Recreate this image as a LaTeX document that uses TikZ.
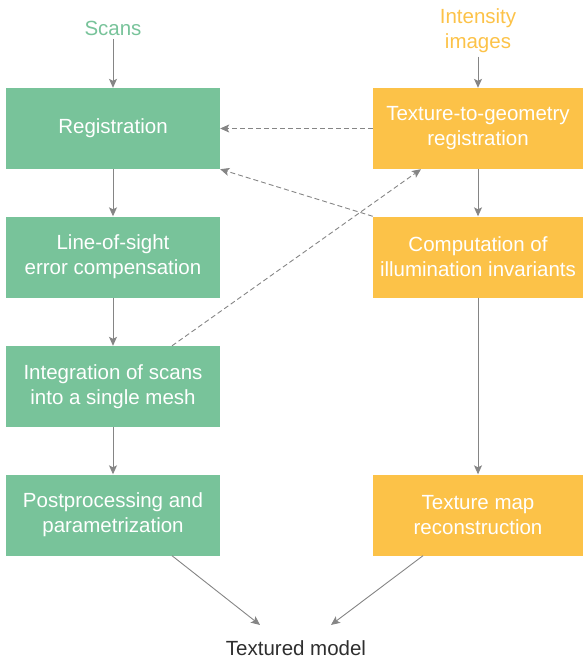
\documentclass[tikz,border=0pt]{standalone}
\usepackage{fontspec}
\setmainfont{Liberation Sans}
\usetikzlibrary{arrows.meta}
\definecolor{boxgreen}{HTML}{78C39A}
\definecolor{boxorange}{HTML}{FCC248}
\definecolor{linegray}{HTML}{858585}
\definecolor{textdark}{HTML}{2E2E2E}
\begin{document}
\begin{tikzpicture}[x=1pt, y=-1pt, every node/.style={font=\fontsize{20.5}{25}\selectfont},
  gbox/.style={fill=boxgreen,text=white,minimum width=214pt,minimum height=81pt,align=center,inner sep=0pt},
  obox/.style={fill=boxorange,text=white,minimum width=210pt,minimum height=81pt,align=center,inner sep=0pt},
  flow/.style={draw=linegray,line width=0.9pt,-{Stealth[length=9pt,width=8pt,inset=2pt]}},
  back/.style={flow,dashed,dash pattern=on 5pt off 3pt}]
\useasboundingbox (0,0) rectangle (583,661);
% left column: geometry
\node[text=boxgreen] (scans) at (113,28) {Scans};
\node[gbox] (reg) at (113,128.5) {Registration};
\node[gbox] (los) at (113,257) {Line-of-sight\\error compensation};
\node[gbox] (integ) at (113,386.5) {Integration of scans\\into a single mesh};
\node[gbox] (post) at (113,515) {Postprocessing and\\parametrization};
% right column: texture
\node[text=boxorange,align=center] (intens) at (478,31) {Intensity\\images};
\node[obox] (tgr) at (478,128.5) {Texture-to-geometry\\registration};
\node[obox] (illum) at (478,257) {Computation of\\illumination invariants};
\node[obox] (texmap) at (478,515) {Texture map\\reconstruction};
\node[text=textdark] (model) at (296,648) {Textured model};
% solid flow
\draw[flow] (scans) -- (reg);
\draw[flow] (reg) -- (los);
\draw[flow] (los) -- (integ);
\draw[flow] (integ) -- (post);
\draw[flow] (intens) -- (tgr);
\draw[flow] (tgr) -- (illum);
\draw[flow] (illum) -- (texmap);
\draw[flow] ([xshift=59pt]post.south) -- ([xshift=-36pt,yshift=12pt]model.north);
\draw[flow] ([xshift=-55pt]texmap.south) -- ([xshift=35pt,yshift=12pt]model.north);
% dashed feedback
\draw[back] (tgr.west) -- (reg.east);
\draw[back] (illum.north west) -- (reg.south east);
\draw[back] ([xshift=59pt]integ.north) -- ([xshift=-57pt]tgr.south);
\end{tikzpicture}
\end{document}
